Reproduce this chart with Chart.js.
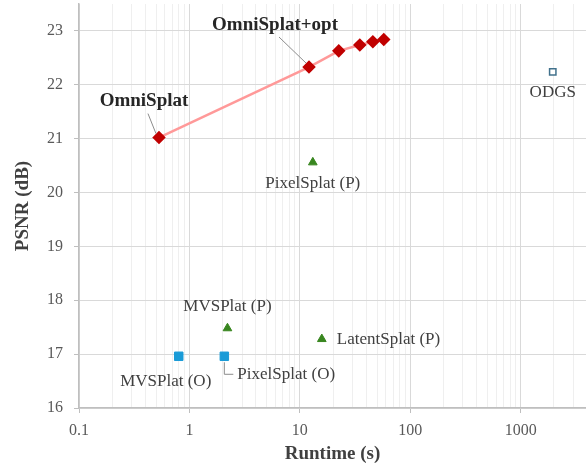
<!DOCTYPE html>
<html>
<head>
<meta charset="utf-8">
<script src="https://cdn.jsdelivr.net/npm/chart.js@4"></script>
<style>
  html, body { margin: 0; padding: 0; background: #fff; }
  #wrap { width: 586px; height: 465px; }
</style>
</head>
<body>
<div id="wrap"><canvas id="myChart"></canvas></div>
<script>
// OmniSplat runs (base + optimisation steps)
const omniRuntime = [0.53, 12.1, 22.5, 34.9, 45.8, 57.5];
const omniPsnr = [21.02, 22.33, 22.63, 22.74, 22.80, 22.84];

// perspective-trained baselines
const perspNames = ["PixelSplat (P)", "MVSPlat (P)", "LatentSplat (P)"];
const perspRuntime = [13.1, 2.21, 15.8];
const perspPsnr = [20.56, 17.48, 17.28];

// omnidirectional-trained baselines
const omniBaseNames = ["MVSPlat (O)", "PixelSplat (O)"];
const omniBaseRuntime = [0.80, 2.07];
const omniBasePsnr = [16.96, 16.96];

// optimisation-based
const odgsRuntime = [1950];
const odgsPsnr = [22.24];

const xTicks = [0.1, 1, 10, 100, 1000];
const yTicks = [16, 17, 18, 19, 20, 21, 22, 23];

const SERIF = "'Liberation Serif', 'DejaVu Serif', serif";

function pts(xs, ys) {
  return xs.map((x, i) => ({ x: x, y: ys[i] }));
}

// label placement: [dataset, index, text, dx, dy, align, bold, leader]
const labels = [
  [0, 0, "OmniSplat", -15, -36, "center", true, "line"],
  [0, 1, "OmniSplat+opt", -34, -42, "center", true, "line"],
  [1, 0, perspNames[0], 0, 21, "center", false, null],
  [1, 1, perspNames[1], 0, -22, "center", false, null],
  [1, 2, perspNames[2], 15, 0, "left", false, null],
  [2, 0, omniBaseNames[0], -13, 25, "center", false, null],
  [2, 1, omniBaseNames[1], 13, 18, "left", false, "elbow"],
  [3, 0, "ODGS", 0, 21, "center", false, null],
];

const labelPlugin = {
  id: "labelPlugin",
  afterDatasetsDraw(chart) {
    const ctx = chart.ctx;
    ctx.save();
    labels.forEach(l => {
      const el = chart.getDatasetMeta(l[0]).data[l[1]];
      const px = el.x, py = el.y;
      const tx = px + l[3], ty = py + l[4];
      ctx.font = (l[6] ? "bold 19px " : "17px ") + SERIF;
      ctx.fillStyle = l[6] ? "#262626" : "#404040";
      ctx.textAlign = l[5];
      ctx.textBaseline = "middle";
      if (l[7] === "line") {
        ctx.strokeStyle = "#8c8c8c";
        ctx.lineWidth = 1;
        ctx.beginPath();
        ctx.moveTo(tx + 4, ty + 12);
        ctx.lineTo(px - 3, py - 4);
        ctx.stroke();
      } else if (l[7] === "elbow") {
        ctx.strokeStyle = "#8c8c8c";
        ctx.lineWidth = 1;
        ctx.beginPath();
        ctx.moveTo(px, py + 6);
        ctx.lineTo(px, ty);
        ctx.lineTo(tx - 4, ty);
        ctx.stroke();
      }
      ctx.fillText(l[2], tx, ty);
    });
    ctx.restore();
  }
};

const ctx = document.getElementById("myChart");

new Chart(ctx, {
  type: "scatter",
  data: {
    datasets: [
      {
        data: pts(omniRuntime, omniPsnr),
        showLine: true,
        borderColor: "#ff9999",
        borderWidth: 2.5,
        pointStyle: "rectRot",
        pointRadius: 5,
        pointBackgroundColor: "#c00000",
        pointBorderColor: "#c00000",
      },
      {
        data: pts(perspRuntime, perspPsnr),
        pointStyle: "triangle",
        pointRadius: 5,
        backgroundColor: "#38861f",
        borderColor: "#38861f",
      },
      {
        data: pts(omniBaseRuntime, omniBasePsnr),
        pointStyle: "rect",
        pointRadius: 6,
        backgroundColor: "#1a9bd7",
        borderColor: "#1a9bd7",
      },
      {
        data: pts(odgsRuntime, odgsPsnr),
        pointStyle: "rect",
        pointRadius: 4.5,
        backgroundColor: "#ffffff",
        borderColor: "#41718c",
        borderWidth: 1.5,
      },
    ],
  },
  options: {
    responsive: true,
    maintainAspectRatio: false,
    animation: false,
    layout: { autoPadding: false, padding: { top: 4, right: 0, left: 0, bottom: 0 } },
    scales: {
      x: {
        type: "logarithmic",
        min: 0.1,
        max: 3900,
        afterBuildTicks: (scale) => {
          const t = [];
          for (let d = 0.1; d <= 1000; d *= 10) {
            for (let m = 1; m <= 9; m++) {
              const v = +(d * m).toPrecision(3);
              if (v <= 3900) t.push({ value: v });
            }
          }
          scale.ticks = t;
        },
        afterFit: (scale) => {
          scale.height = 57;
          scale.paddingRight = 0;
        },
        ticks: {
          autoSkip: false,
          maxRotation: 0,
          color: "#595959",
          font: { family: SERIF, size: 16 },
          padding: 8,
          callback: (v) => (xTicks.includes(+v.toPrecision(3)) ? String(+v.toPrecision(3)) : ""),
        },
        grid: {
          color: (c) => (c.tick && xTicks.includes(+c.tick.value.toPrecision(3)) ? "#d9d9d9" : "#efefef"),
          tickColor: (c) => (c.tick && xTicks.includes(+c.tick.value.toPrecision(3)) ? "#bfbfbf" : "rgba(0,0,0,0)"),
          tickLength: 5,
        },
        border: { color: "#bfbfbf", width: 1.5 },
        title: {
          display: true,
          text: "Runtime (s)",
          color: "#404040",
          font: { family: SERIF, size: 19, weight: "bold" },
          padding: { top: 0, bottom: 0 },
        },
      },
      y: {
        min: 16,
        max: 23.5,
        afterBuildTicks: (scale) => {
          scale.ticks = yTicks.map(v => ({ value: v }));
        },
        afterFit: (scale) => {
          scale.width = 79;
          scale.paddingTop = 0;
        },
        ticks: {
          color: "#595959",
          font: { family: SERIF, size: 16 },
          padding: 11,
        },
        grid: {
          color: "#d9d9d9",
          tickColor: "#bfbfbf",
          tickLength: 5,
        },
        border: { color: "#bfbfbf", width: 1.5 },
        title: {
          display: true,
          text: "PSNR (dB)",
          color: "#404040",
          font: { family: SERIF, size: 19, weight: "bold" },
          padding: { top: 12, bottom: 0 },
        },
      },
    },
    plugins: {
      legend: { display: false },
      tooltip: { enabled: false },
    },
  },
  plugins: [labelPlugin],
});
</script>
</body>
</html>
